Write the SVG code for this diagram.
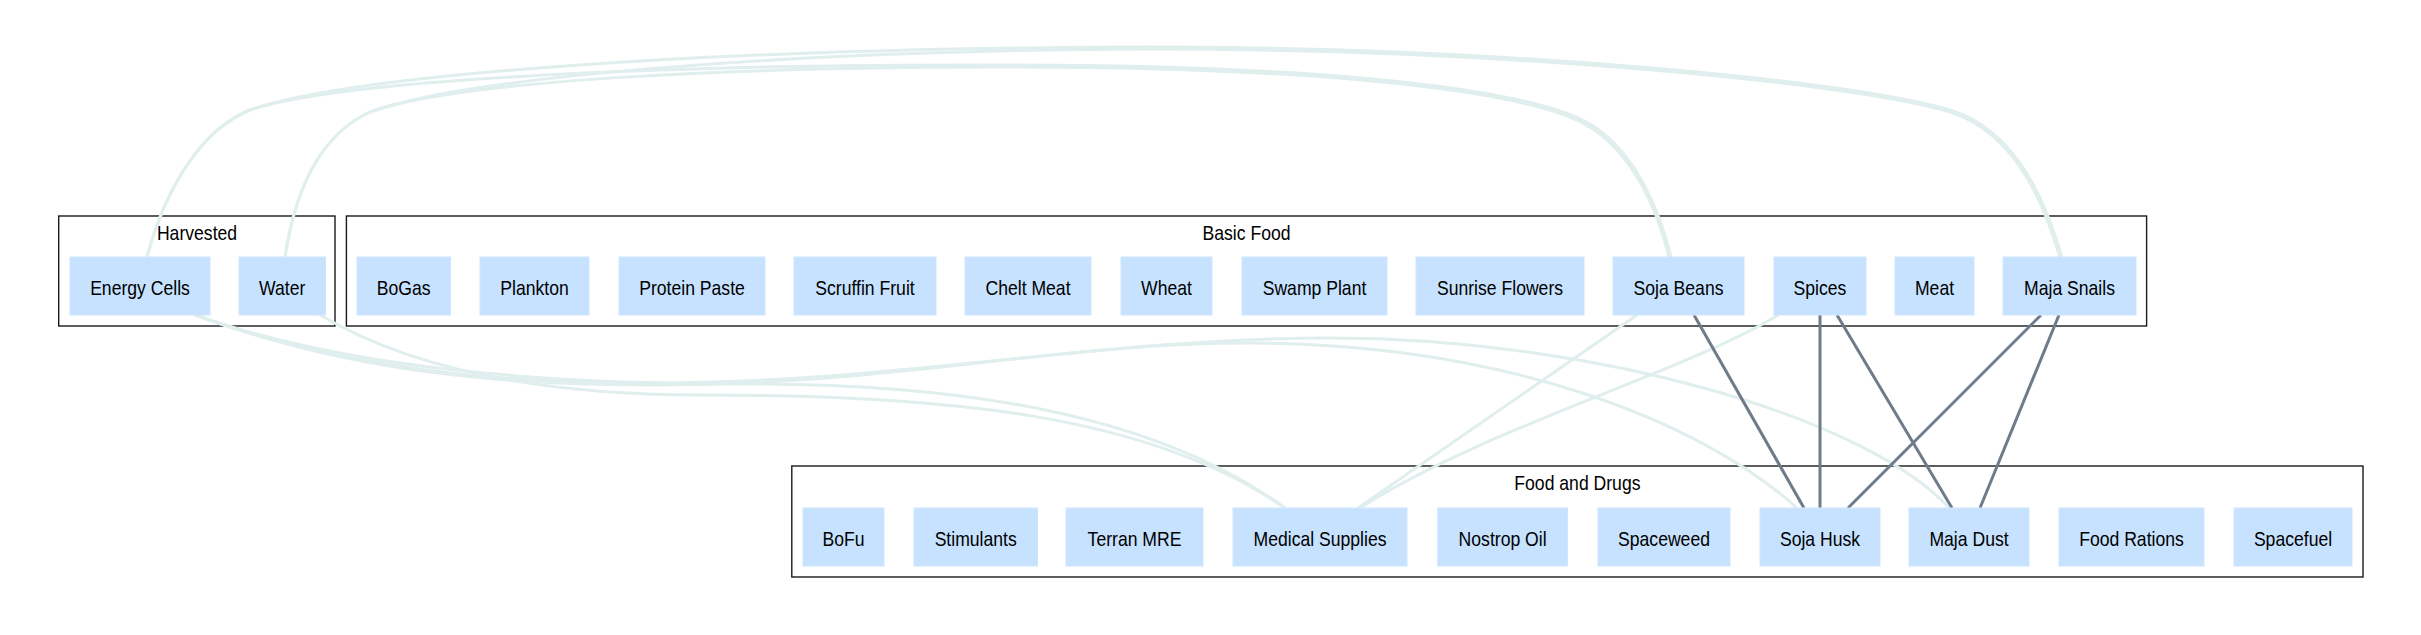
<svg xmlns="http://www.w3.org/2000/svg" width="2421" height="635" viewBox="0 0 2421 635">
<style>
  .cluster { fill: none; stroke: #1a1a1a; stroke-width: 1.4; }
  .clabel { font-family: "Liberation Sans", Arial, sans-serif; font-size: 20px; fill: #000; text-anchor: middle; }
  .node rect { fill: #c6e2ff; stroke: #cfe6ff; stroke-width: 1; }
  .node text { font-family: "Liberation Sans", Arial, sans-serif; font-size: 20px; fill: #000; text-anchor: middle; }
  .light { fill: none; stroke: #e0eeee; stroke-width: 3; }
  .dark { fill: none; stroke: #6e7b8b; stroke-width: 3; }
</style>
<rect x="0" y="0" width="2421" height="635" fill="#ffffff"/>

<g id="clusters">
  <g id="cluster-harvested">
    <rect class="cluster" x="58.7" y="216" width="276.3" height="110"/>
    <text class="clabel" transform="translate(197,240) scale(0.88,1)">Harvested</text>
  </g>
  <g id="cluster-basic-food">
    <rect class="cluster" x="346.4" y="216" width="1800.2" height="110"/>
    <text class="clabel" transform="translate(1246.5,240) scale(0.88,1)">Basic Food</text>
  </g>
  <g id="cluster-food-drugs">
    <rect class="cluster" x="791.8" y="466" width="1571.2" height="111"/>
    <text class="clabel" transform="translate(1577.4,490) scale(0.88,1)">Food and Drugs</text>
  </g>
</g>

<g id="connectors">
  <!-- top arcs -->
  <path class="light" d="M147,257 C165,190 200,130 250,110 C350,75 700,48 1150,47 C1500,47 1850,80 1950,110 C2025,133 2050,220 2062,257"/>
  <path class="light" d="M285,257 C295,190 320,135 370,112 C470,76 800,50 1150,49 C1500,49 1850,82 1950,112 C2023,135 2048,220 2060,257"/>
  <path class="light" d="M147,257 C165,190 200,130 250,110 C350,77 700,64 1000,65 C1300,65 1500,85 1576,117 C1637,143 1662,220 1671,257"/>
  <path class="light" d="M285,257 C295,190 320,135 370,112 C460,79 750,67 1000,67 C1300,67 1500,87 1575,119 C1635,145 1660,220 1669,257"/>
  <!-- bottom light arcs -->
  <path class="light" d="M195,315 C350,370 550,384 750,384 C950,384 1150,410 1285,508"/>
  <path class="light" d="M320,315 C400,362 520,395 700,395 C950,395 1150,415 1285,508"/>
  <path class="light" d="M195,315 C350,372 500,385 650,385 C900,385 1050,343 1250,343 C1500,343 1700,420 1797,508"/>
  <path class="light" d="M195,315 C350,370 500,383 650,383 C900,383 1100,338 1330,338 C1600,338 1870,420 1949,508"/>
  <path class="light" d="M1637,315 L1358,508"/>
  <path class="light" d="M1778,315 C1690,370 1480,430 1360,508"/>
  <!-- dark lines -->
  <path class="dark" d="M1694,315 L1804,508"/>
  <path class="dark" d="M1820,315 L1820,508"/>
  <path class="dark" d="M1837,315 L1952,508"/>
  <path class="dark" d="M2041,315 L1848,508"/>
  <path class="dark" d="M2059,315 L1980,508"/>
</g>

<g id="nodes">
  <g id="energy-cells" class="node"><rect x="70" y="257" width="140" height="58"/><text transform="translate(140,294.5) scale(0.88,1)">Energy Cells</text></g>
  <g id="water" class="node"><rect x="239" y="257" width="86.5" height="58"/><text transform="translate(282.2,294.5) scale(0.88,1)">Water</text></g>

  <g id="bogas" class="node"><rect x="357" y="257" width="93.5" height="58"/><text transform="translate(403.7,294.5) scale(0.88,1)">BoGas</text></g>
  <g id="plankton" class="node"><rect x="480" y="257" width="109" height="58"/><text transform="translate(534.5,294.5) scale(0.88,1)">Plankton</text></g>
  <g id="protein-paste" class="node"><rect x="619" y="257" width="146" height="58"/><text transform="translate(692,294.5) scale(0.88,1)">Protein Paste</text></g>
  <g id="scruffin-fruit" class="node"><rect x="794" y="257" width="142" height="58"/><text transform="translate(865,294.5) scale(0.88,1)">Scruffin Fruit</text></g>
  <g id="chelt-meat" class="node"><rect x="965" y="257" width="126" height="58"/><text transform="translate(1028,294.5) scale(0.88,1)">Chelt Meat</text></g>
  <g id="wheat" class="node"><rect x="1121" y="257" width="91" height="58"/><text transform="translate(1166.5,294.5) scale(0.88,1)">Wheat</text></g>
  <g id="swamp-plant" class="node"><rect x="1242" y="257" width="145" height="58"/><text transform="translate(1314.5,294.5) scale(0.88,1)">Swamp Plant</text></g>
  <g id="sunrise-flowers" class="node"><rect x="1416" y="257" width="168" height="58"/><text transform="translate(1500,294.5) scale(0.88,1)">Sunrise Flowers</text></g>
  <g id="soja-beans" class="node"><rect x="1613" y="257" width="131" height="58"/><text transform="translate(1678.5,294.5) scale(0.88,1)">Soja Beans</text></g>
  <g id="spices" class="node"><rect x="1774" y="257" width="92" height="58"/><text transform="translate(1820,294.5) scale(0.88,1)">Spices</text></g>
  <g id="meat" class="node"><rect x="1895" y="257" width="79" height="58"/><text transform="translate(1934.5,294.5) scale(0.88,1)">Meat</text></g>
  <g id="maja-snails" class="node"><rect x="2003" y="257" width="133" height="58"/><text transform="translate(2069.5,294.5) scale(0.88,1)">Maja Snails</text></g>

  <g id="bofu" class="node"><rect x="803" y="508" width="81" height="58"/><text transform="translate(843.5,545.5) scale(0.88,1)">BoFu</text></g>
  <g id="stimulants" class="node"><rect x="914" y="508" width="123.5" height="58"/><text transform="translate(975.7,545.5) scale(0.88,1)">Stimulants</text></g>
  <g id="terran-mre" class="node"><rect x="1066" y="508" width="137" height="58"/><text transform="translate(1134.5,545.5) scale(0.88,1)">Terran MRE</text></g>
  <g id="medical-supplies" class="node"><rect x="1233" y="508" width="174" height="58"/><text transform="translate(1320,545.5) scale(0.88,1)">Medical Supplies</text></g>
  <g id="nostrop-oil" class="node"><rect x="1437.7" y="508" width="129.8" height="58"/><text transform="translate(1502.6,545.5) scale(0.88,1)">Nostrop Oil</text></g>
  <g id="spaceweed" class="node"><rect x="1598" y="508" width="132" height="58"/><text transform="translate(1664,545.5) scale(0.88,1)">Spaceweed</text></g>
  <g id="soja-husk" class="node"><rect x="1760" y="508" width="120" height="58"/><text transform="translate(1820,545.5) scale(0.88,1)">Soja Husk</text></g>
  <g id="maja-dust" class="node"><rect x="1909" y="508" width="120" height="58"/><text transform="translate(1969,545.5) scale(0.88,1)">Maja Dust</text></g>
  <g id="food-rations" class="node"><rect x="2059" y="508" width="145" height="58"/><text transform="translate(2131.5,545.5) scale(0.88,1)">Food Rations</text></g>
  <g id="spacefuel" class="node"><rect x="2234" y="508" width="118" height="58"/><text transform="translate(2293,545.5) scale(0.88,1)">Spacefuel</text></g>
</g>
</svg>
